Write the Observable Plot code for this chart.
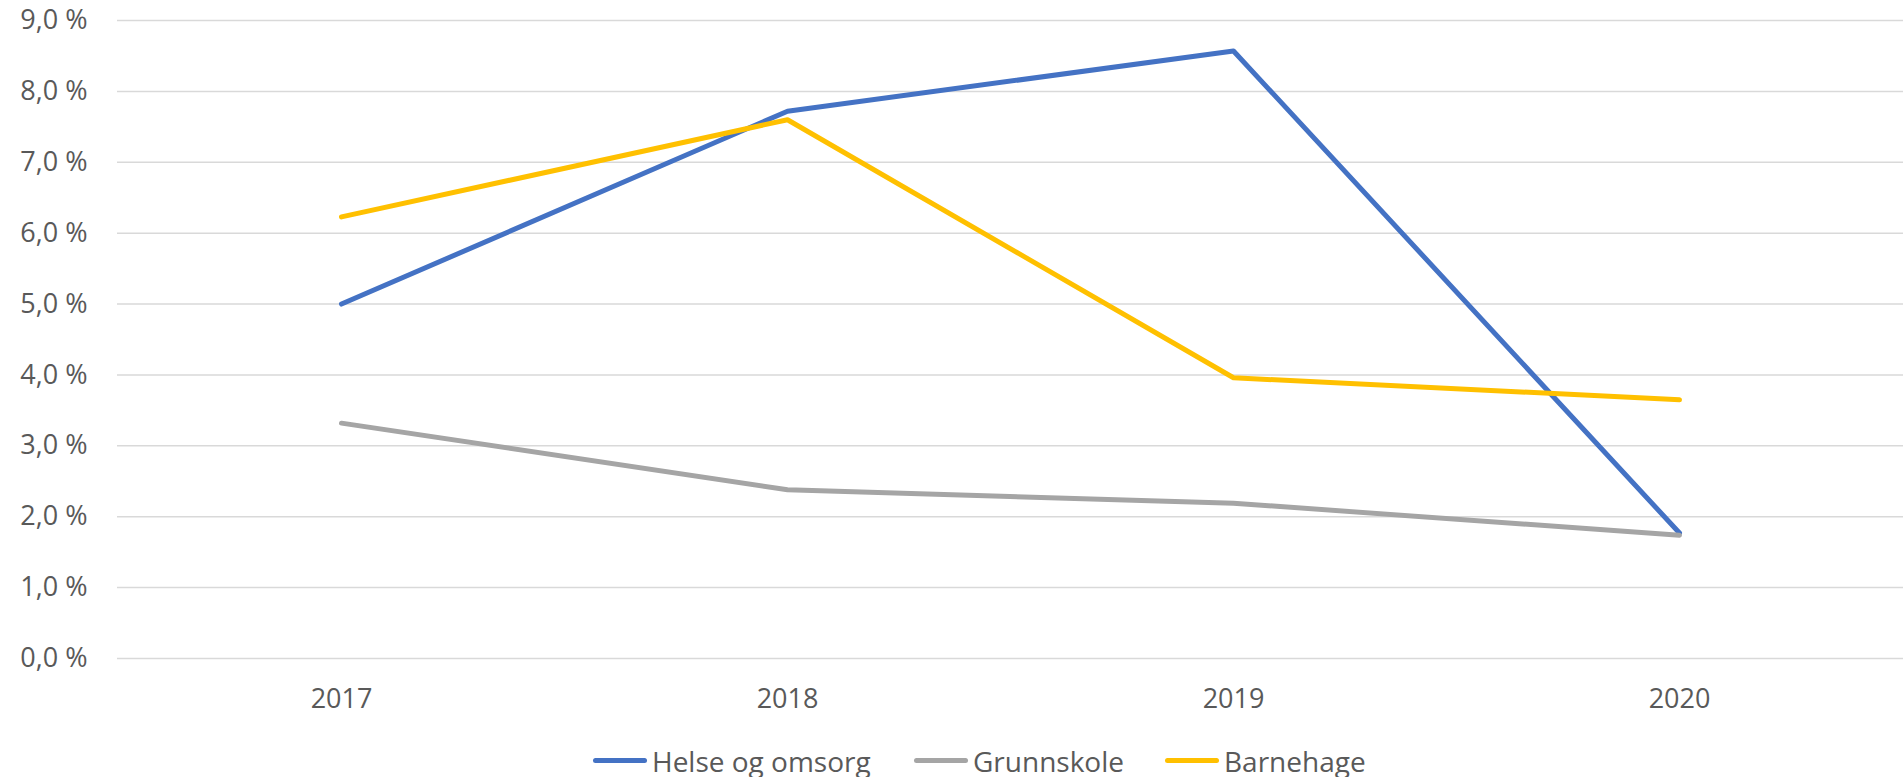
<!DOCTYPE html>
<html>
<head>
<meta charset="utf-8">
<script src="https://cdn.jsdelivr.net/npm/d3@7"></script>
<script src="https://cdn.jsdelivr.net/npm/@observablehq/plot@0.6"></script>
<style>
  html, body { margin: 0; padding: 0; background: #fff; }
  body { width: 1903px; height: 777px; overflow: hidden; font-family: "Open Sans", sans-serif; }
  #legend { position: relative; height: 47px; font-size: 28px; color: #595959; }
  .item { position: absolute; top: 14px; height: 33px; display: flex; align-items: center; gap: 5px; white-space: nowrap; }
  .item:nth-child(1) { left: 593px; }
  .item:nth-child(2) { left: 914px; }
  .item:nth-child(3) { left: 1165px; }
  .sw { width: 54px; height: 5px; border-radius: 3px; }
</style>
</head>
<body>
<div id="chart"></div>
<div id="legend"></div>
<script>
const years = ["2017", "2018", "2019", "2020"];
const seriesNames = ["Helse og omsorg", "Grunnskole", "Barnehage"];
const seriesColors = ["#4472C4", "#A5A5A5", "#FFC000"];
const helse = [5.0, 7.72, 8.57, 1.77];
const grunnskole = [3.32, 2.38, 2.19, 1.74];
const barnehage = [6.23, 7.60, 3.96, 3.65];
const yTicks = [0, 1, 2, 3, 4, 5, 6, 7, 8, 9];

const values = [helse, grunnskole, barnehage];
const data = [];
seriesNames.forEach((s, i) => years.forEach((y, j) => data.push({series: s, year: y, value: values[i][j]})));

const fmt = d => d.toFixed(1).replace(".", ",") + " %";

const chart = Plot.plot({
  width: 1903,
  height: 730,
  marginLeft: 117,
  marginRight: 0,
  marginTop: 20,
  marginBottom: 72,
  style: {fontFamily: "Open Sans, sans-serif", fontSize: "27px", color: "#595959", background: "#fff"},
  x: {type: "point", domain: years, padding: 0.5},
  y: {domain: [0, 9]},
  color: {domain: seriesNames, range: seriesColors},
  marks: [
    Plot.gridY(yTicks, {stroke: "#d9d9d9", strokeOpacity: 1, strokeWidth: 1.5}),
    Plot.axisY(yTicks, {tickSize: 0, tickPadding: 30, tickFormat: fmt, label: null, fill: "#595959"}),
    Plot.axisX({tickSize: 0, tickPadding: 30, label: null, fill: "#595959"}),
    Plot.line(data, {x: "year", y: "value", z: "series", stroke: "series", strokeWidth: 5, strokeLinecap: "round", strokeLinejoin: "round"})
  ]
});
document.getElementById("chart").appendChild(chart);

const legend = document.getElementById("legend");
seriesNames.forEach((s, i) => {
  const item = document.createElement("div");
  item.className = "item";
  const sw = document.createElement("span");
  sw.className = "sw";
  sw.style.background = seriesColors[i];
  const t = document.createElement("span");
  t.textContent = s;
  item.appendChild(sw);
  item.appendChild(t);
  legend.appendChild(item);
});
</script>
</body>
</html>
